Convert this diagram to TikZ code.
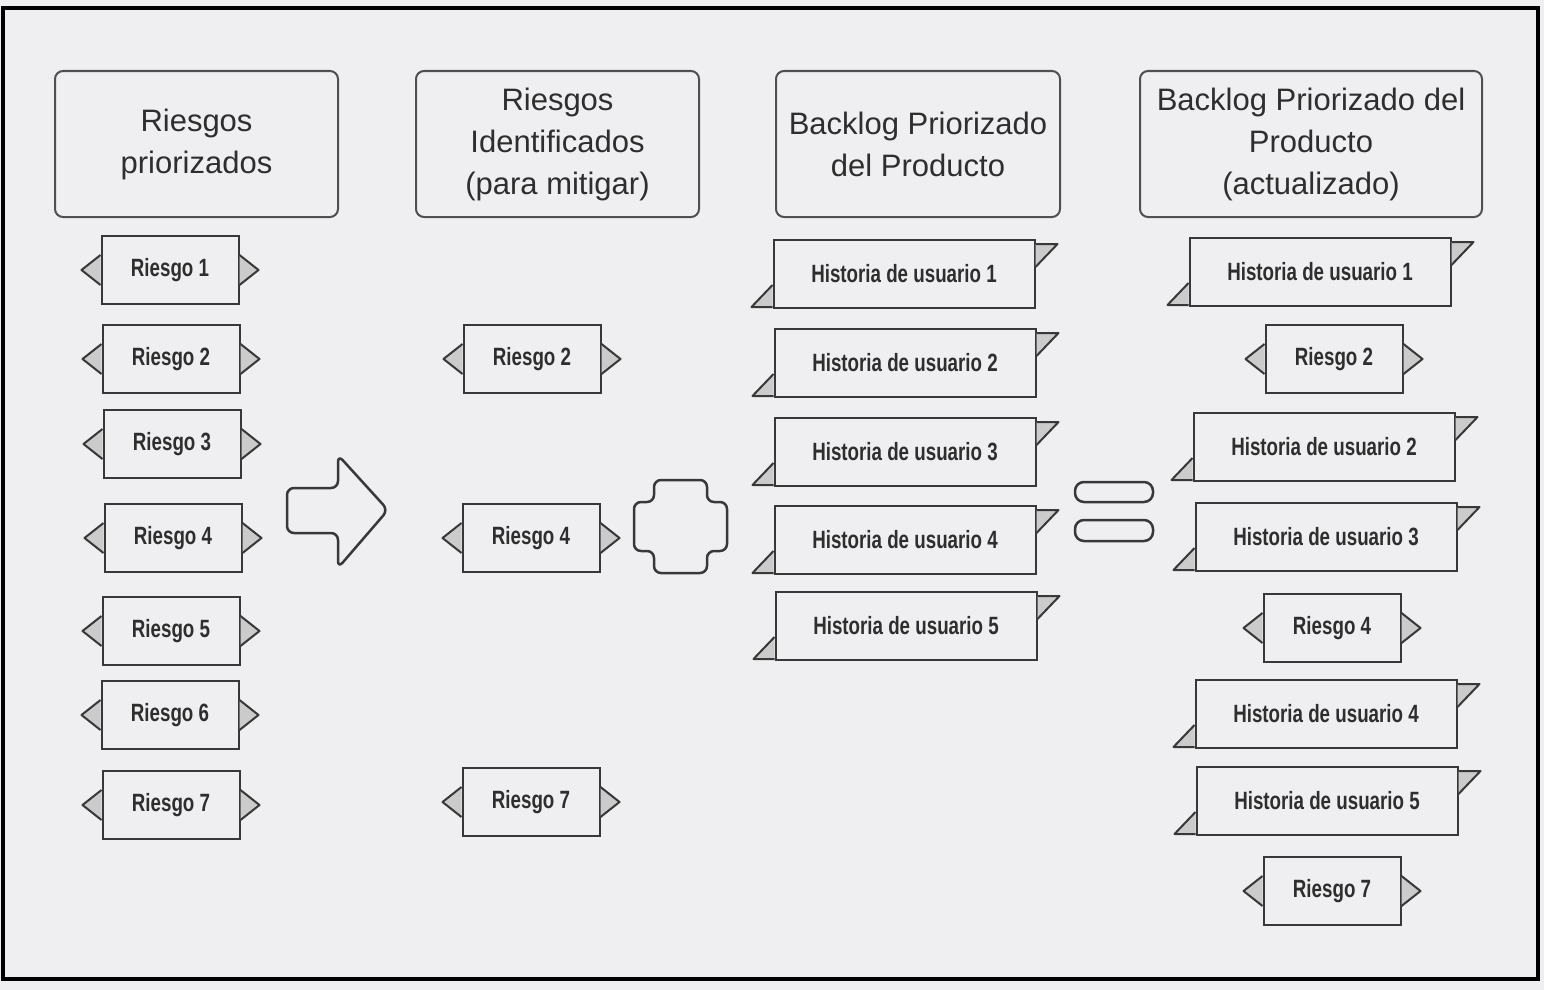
\documentclass[tikz,border=0pt]{standalone}
\usepackage{fontspec}
\setmainfont{Liberation Sans}
\newfontfamily\nbfont[FakeStretch=0.75]{Liberation Sans Bold}
\definecolor{bg}{HTML}{EFEFF1}
\definecolor{ln}{HTML}{383838}
\definecolor{hd}{HTML}{505050}
\definecolor{txt}{HTML}{2E2E2E}
\definecolor{flapc}{HTML}{CBCBCB}
\tikzset{
  header/.style={draw=hd, line width=2pt, rounded corners=8pt, minimum height=146pt,
    align=center, text=txt, inner sep=0pt, font=\fontsize{31}{42}\selectfont},
  rbox/.style={draw=ln, line width=2pt, fill=bg, minimum width=137pt, minimum height=68pt,
    inner sep=0pt, text=txt, font=\nbfont\fontsize{25}{30}\selectfont},
  hbox/.style={rbox, minimum width=261pt},
  flap/.style={draw=ln, fill=flapc, line width=2pt, line join=round},
  bigshape/.style={draw=ln, line width=2.5pt, rounded corners=7pt, line join=round}
}
\newcommand\riesgo[3]{%
  \node[rbox] (#1) at (#2) {#3};
  \filldraw[flap] ([yshift=15pt]#1.west) -- ([xshift=-19pt]#1.west) -- ([yshift=-15pt]#1.west);
  \filldraw[flap] ([yshift=15pt]#1.east) -- ([xshift=19pt]#1.east) -- ([yshift=-15pt]#1.east);
}
\newcommand\historia[3]{%
  \node[hbox] (#1) at (#2) {#3};
  \filldraw[flap] ([yshift=24pt]#1.south west) -- ([xshift=-21pt,yshift=2pt]#1.south west) -- ([yshift=2pt]#1.south west);
  \filldraw[flap] ([yshift=-5pt]#1.north east) -- ([xshift=22pt,yshift=-5pt]#1.north east) -- ([yshift=-28pt]#1.north east);
}
\begin{document}
\begin{tikzpicture}[x=1pt,y=-1pt]
\useasboundingbox (0,0) rectangle (1544,990);
\fill[bg] (0,0) rectangle (1544,990);
\draw[line width=4pt, black] (3,8) rectangle (1538,979);

% headers
\node[header, minimum width=283pt] (h1) at (196.5,144) {Riesgos\\priorizados};
\node[header, minimum width=283pt] (h2) at (557.5,144) {Riesgos\\Identificados\\(para mitigar)};
\node[header, minimum width=284pt] (h3) at (918,144) {Backlog Priorizado\\del Producto};
\node[header, minimum width=342pt] (h4) at (1311,144) {Backlog Priorizado del\\Producto\\(actualizado)};

% column 1
\riesgo{a1}{170,270}{Riesgo 1}
\riesgo{a2}{171,359}{Riesgo 2}
\riesgo{a3}{172,444}{Riesgo 3}
\riesgo{a4}{173,538}{Riesgo 4}
\riesgo{a5}{171,631}{Riesgo 5}
\riesgo{a6}{170,715}{Riesgo 6}
\riesgo{a7}{171,805}{Riesgo 7}

% block arrow
\draw[bigshape] (287,488) -- (338,488) -- (338,455) -- (388,510) -- (338,568) -- (338,533) -- (287,533) -- cycle;

% column 2
\riesgo{b2}{532,359}{Riesgo 2}
\riesgo{b4}{531,538}{Riesgo 4}
\riesgo{b7}{531,802}{Riesgo 7}

% plus
\draw[bigshape] (654,480) -- (707,480) -- (707,502) -- (727,502) -- (727,551) -- (707,551) -- (707,573)
  -- (654,573) -- (654,551) -- (634,551) -- (634,502) -- (654,502) -- cycle;

% column 3
\historia{c1}{904,274}{Historia de usuario 1}
\historia{c2}{905,363}{Historia de usuario 2}
\historia{c3}{905,452}{Historia de usuario 3}
\historia{c4}{905,540}{Historia de usuario 4}
\historia{c5}{906,626}{Historia de usuario 5}

% equals
\draw[draw=ln, line width=2.5pt, rounded corners=9pt] (1075,482) rectangle (1153,502);
\draw[draw=ln, line width=2.5pt, rounded corners=9pt] (1075,520) rectangle (1153,541);

% column 4
\historia{d1}{1320,272}{Historia de usuario 1}
\riesgo{d2}{1334,359}{Riesgo 2}
\historia{d3}{1324,447}{Historia de usuario 2}
\historia{d4}{1326,537}{Historia de usuario 3}
\riesgo{d5}{1332,628}{Riesgo 4}
\historia{d6}{1326,714}{Historia de usuario 4}
\historia{d7}{1327,801}{Historia de usuario 5}
\riesgo{d8}{1332,891}{Riesgo 7}
\end{tikzpicture}
\end{document}
